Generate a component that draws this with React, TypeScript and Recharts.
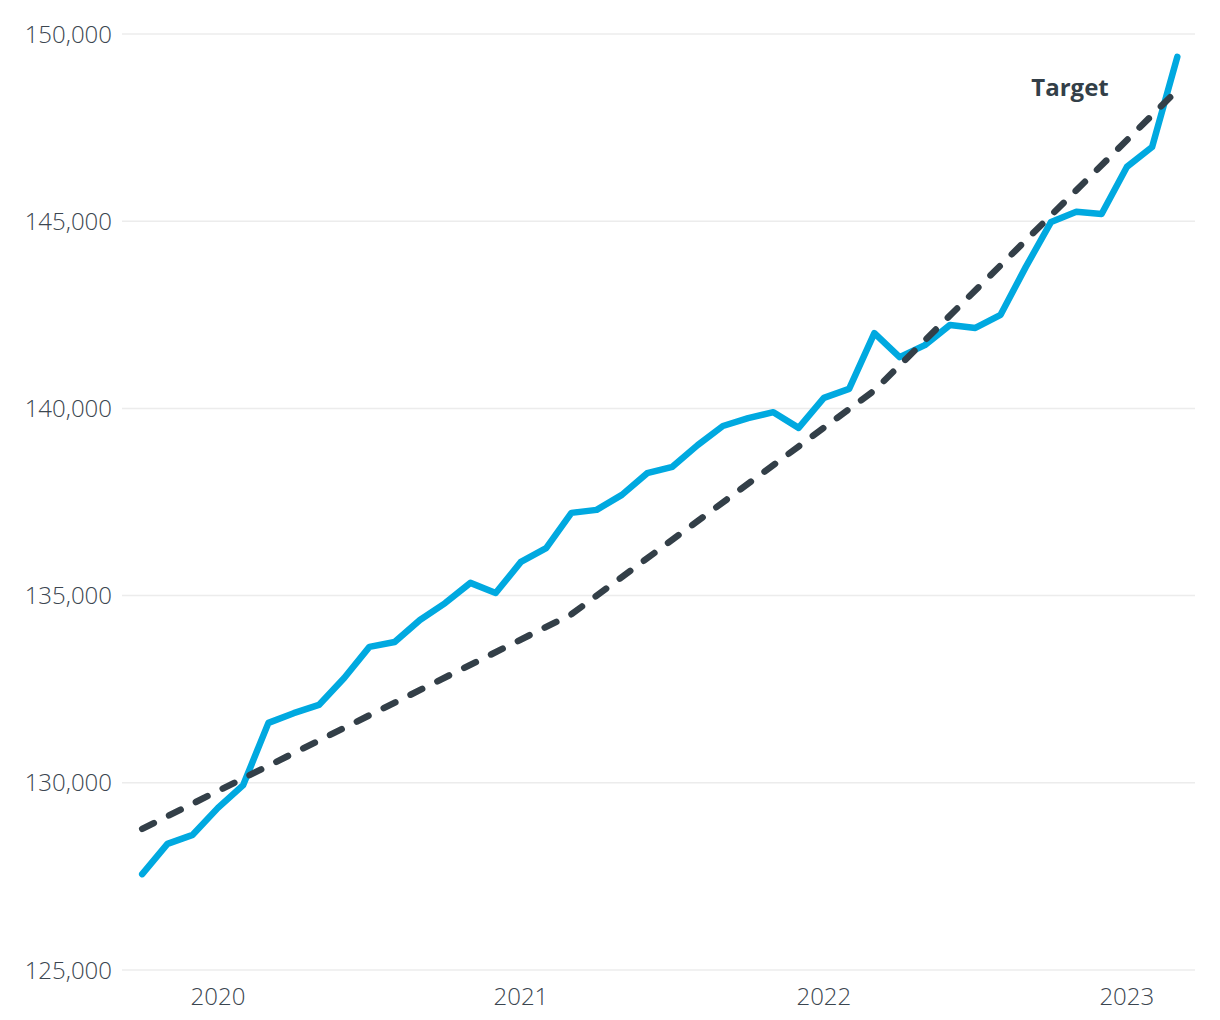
import React from 'react';
import { CartesianGrid, Label, Line, LineChart, ReferenceDot, XAxis, YAxis } from 'recharts';

// monthly headcount, Oct 2019 - Mar 2023
const months = [
  '2019-10', '2019-11', '2019-12',
  '2020-01', '2020-02', '2020-03', '2020-04', '2020-05', '2020-06',
  '2020-07', '2020-08', '2020-09', '2020-10', '2020-11', '2020-12',
  '2021-01', '2021-02', '2021-03', '2021-04', '2021-05', '2021-06',
  '2021-07', '2021-08', '2021-09', '2021-10', '2021-11', '2021-12',
  '2022-01', '2022-02', '2022-03', '2022-04', '2022-05', '2022-06',
  '2022-07', '2022-08', '2022-09', '2022-10', '2022-11', '2022-12',
  '2023-01', '2023-02', '2023-03',
];

const actual = [
  127560, 128370, 128610,
  129330, 129940, 131600, 131860, 132080, 132800,
  133630, 133760, 134350, 134800, 135340, 135070,
  135900, 136270, 137210, 137290, 137690, 138270,
  138440, 139020, 139530, 139740, 139900, 139480,
  140280, 140520, 142010, 141370, 141690, 142230,
  142150, 142500, 143780, 144980, 145250, 145190,
  146450, 146980, 149390,
];

// target milestones (straight lines between them)
const targetMonths = ['2019-10', '2021-03', '2022-03', '2023-03'];
const targetValues = [128770, 134500, 140480, 148500];

const yTicks = [125000, 130000, 135000, 140000, 145000, 150000];

const BLUE = '#00a9e0';
const DARK = '#333f48';
const TEXT = '#3b4650';

const chartData = months.map((m, i) => {
  const k = targetMonths.indexOf(m);
  return { i, month: m, actual: actual[i], target: k >= 0 ? targetValues[k] : null };
});

const yearTicks = months.map((m, i) => (m.endsWith('-01') ? i : -1)).filter((i) => i >= 0);

const tickStyle = { fill: TEXT, fontSize: 24, fontWeight: 300, fontFamily: 'Open Sans' };

const App: React.FC = () => {
  return (
    <div style={{ position: 'absolute', left: 0, top: 0, background: '#fff' }}>
      <LineChart
        width={1220}
        height={1020}
        data={chartData}
        margin={{ top: 34, right: 25, bottom: 0, left: 0 }}
        style={{ fontFamily: 'Open Sans' }}
      >
        <CartesianGrid vertical={false} stroke="#ececec" strokeWidth={1.5} />
        <XAxis
          dataKey="i"
          type="number"
          domain={[-0.8, 41.7]}
          ticks={yearTicks}
          tickFormatter={(v: number) => months[v].slice(0, 4)}
          axisLine={false}
          tickLine={false}
          tickSize={0}
          tickMargin={18}
          height={50}
          tick={tickStyle}
        />
        <YAxis
          type="number"
          domain={[125000, 150000]}
          ticks={yTicks}
          tickFormatter={(v: number) => v.toLocaleString('en-US')}
          axisLine={false}
          tickLine={false}
          tickSize={0}
          tickMargin={10}
          width={122}
          tick={tickStyle}
        />
        <Line
          dataKey="actual"
          stroke={BLUE}
          strokeWidth={6.5}
          strokeLinecap="round"
          strokeLinejoin="round"
          dot={false}
          activeDot={false}
          isAnimationActive={false}
        />
        <Line
          dataKey="target"
          connectNulls
          stroke={DARK}
          strokeWidth={6.5}
          strokeDasharray="13 17"
          strokeLinecap="round"
          dot={false}
          activeDot={false}
          isAnimationActive={false}
        />
        <ReferenceDot x={36.75} y={148560} r={0} fill="none" stroke="none">
          <Label value="Target" position="center" fill={DARK} fontSize={24} fontWeight={700} fontFamily="Open Sans" />
        </ReferenceDot>
      </LineChart>
    </div>
  );
};

export default App;
